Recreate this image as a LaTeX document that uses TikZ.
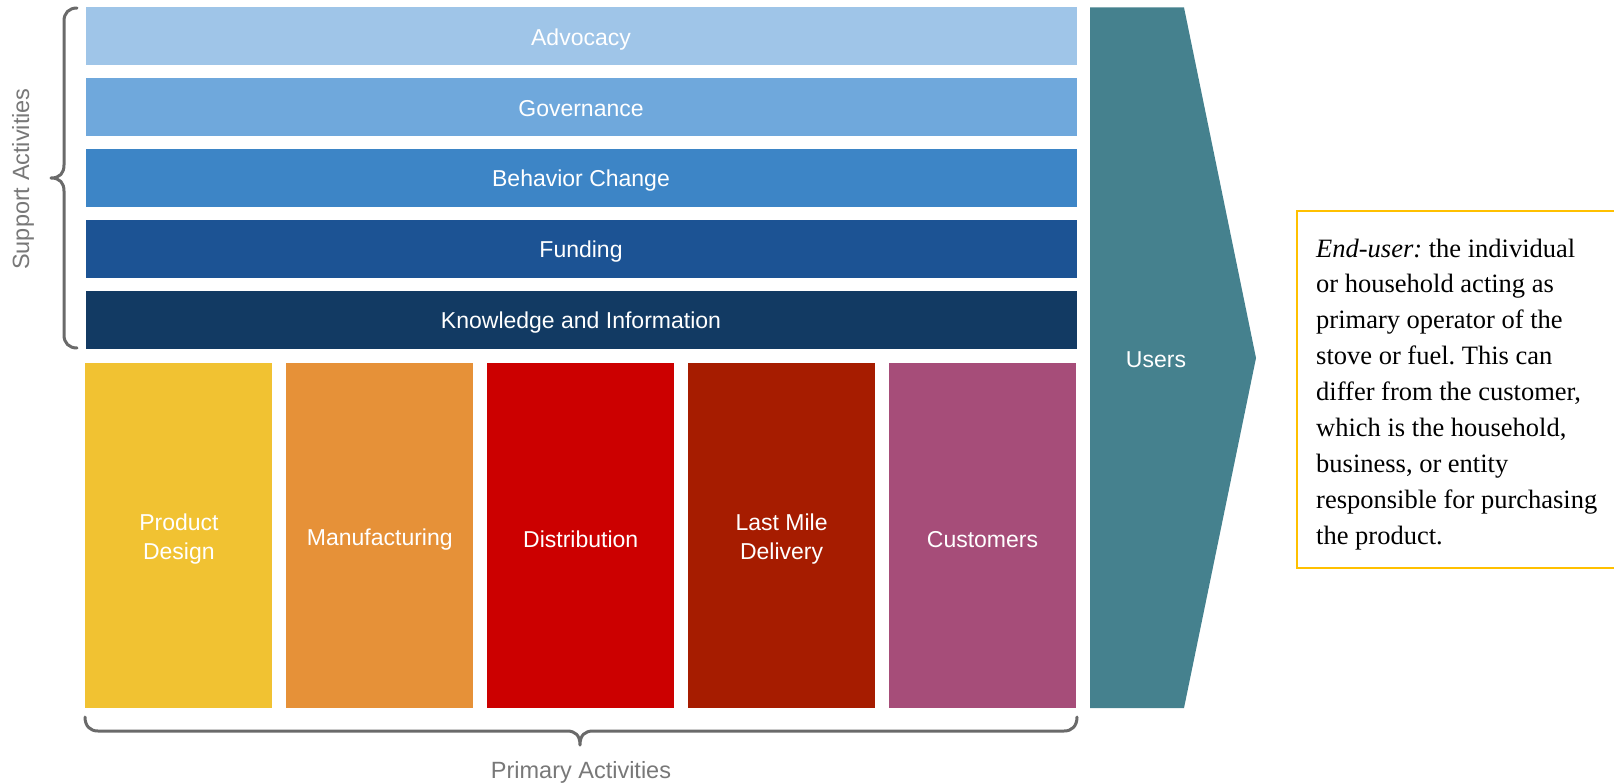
\documentclass[tikz,border=0pt]{standalone}
\usepackage{fontspec}
\setmainfont{Liberation Serif}
\setsansfont{Liberation Sans}
\frenchspacing
\definecolor{cAdv}{HTML}{9FC5E8}
\definecolor{cGov}{HTML}{6FA8DC}
\definecolor{cBeh}{HTML}{3D85C6}
\definecolor{cFun}{HTML}{1C5394}
\definecolor{cKno}{HTML}{123A63}
\definecolor{cPro}{HTML}{F1C232}
\definecolor{cMan}{HTML}{E69138}
\definecolor{cDis}{HTML}{CC0000}
\definecolor{cLas}{HTML}{A61C00}
\definecolor{cCus}{HTML}{A64D79}
\definecolor{cUse}{HTML}{45818E}
\definecolor{cGold}{HTML}{FFC000}
\definecolor{braceGray}{HTML}{6A6A6A}
\definecolor{labelGray}{HTML}{787878}
\begin{document}
\begin{tikzpicture}[x=1pt,y=-1pt,
  bar/.style={draw=none, minimum width=991pt, minimum height=58pt, inner sep=0pt, text=white, text height=17.7pt, text depth=0pt, font=\sffamily\fontsize{23}{27}\selectfont},
  pbox/.style={draw=none, minimum width=187pt, minimum height=345pt, inner sep=0pt},
  plabel/.style={inner sep=0pt, text=white, align=center, font=\sffamily\fontsize{23}{29}\selectfont},
  brace/.style={draw=braceGray, line width=3pt, line cap=round, line join=round},
  lbl/.style={text=labelGray, inner sep=0pt, font=\sffamily\fontsize{23.5}{28}\selectfont}]
\useasboundingbox (0,0) rectangle (1614,784);
% support bars
\node[bar, fill=cAdv] (adv) at (581,36.5) {Advocacy};
\node[bar, fill=cGov] (gov) at (581,107.3) {Governance};
\node[bar, fill=cBeh] (beh) at (581,178.1) {Behavior Change};
\node[bar, fill=cFun] (fun) at (581,248.9) {Funding};
\node[bar, fill=cKno] (kno) at (581,319.7) {Knowledge and Information};
% primary boxes
\node[pbox, fill=cPro] (pro) at (178.9,535.5) {};
\node[pbox, fill=cMan] (man) at (379.8,535.5) {};
\node[pbox, fill=cDis] (dis) at (580.7,535.5) {};
\node[pbox, fill=cLas] (las) at (781.6,535.5) {};
\node[pbox, fill=cCus] (cus) at (982.5,535.5) {};
\node[plabel] (prol) at ([yshift=-4pt]pro.center) {Product\\Design};
\node[plabel] (manl) at ([yshift=-4pt]man.center) {Manufacturing};
\node[plabel] (disl) at ([yshift=-4pt]dis.center) {Distribution};
\node[plabel] (lasl) at ([yshift=-4pt]las.center) {Last Mile\\Delivery};
\node[plabel] (cusl) at ([yshift=-4pt]cus.center) {Customers};
% users arrow
\fill[cUse] (1090,7.5) -- (1184,7.5) -- (1256,358) -- (1184,708) -- (1090,708) -- cycle;
\node[text=white, inner sep=0pt, font=\sffamily\fontsize{23}{27}\selectfont] (users) at (1156,360) {Users};
% braces
\draw[brace] (77,8) .. controls (69,8) and (64,13) .. (64,21) -- (64,165)
  .. controls (64,173) and (60,178) .. (51,178)
  .. controls (60,178) and (64,183) .. (64,191) -- (64,335)
  .. controls (64,343) and (69,348) .. (77,348);
\draw[brace] (85,717) .. controls (85,726) and (90,731) .. (98,731) -- (567,731)
  .. controls (575,731) and (580,735) .. (580,745)
  .. controls (580,735) and (585,731) .. (593,731) -- (1064,731)
  .. controls (1072,731) and (1077,726) .. (1077,717);
\node[lbl, rotate=90] (sa) at (23,179) {Support Activities};
\node[lbl, anchor=base] (pa) at (581,778) {Primary Activities};
% definition box
\draw[cGold, line width=2pt] (1614,211) -- (1297,211) -- (1297,568) -- (1614,568);
\node[anchor=north west, inner sep=0pt, align=left, font=\fontsize{26.5}{35.9}\selectfont] (def) at (1316,238.5)
 {\textit{End-user:} the individual\\ or household acting as\\ primary operator of the\\ stove or fuel. This can\\ differ from the customer,\\ which is the household,\\ business, or entity\\ responsible for purchasing\\ the product.};
\end{tikzpicture}
\end{document}
